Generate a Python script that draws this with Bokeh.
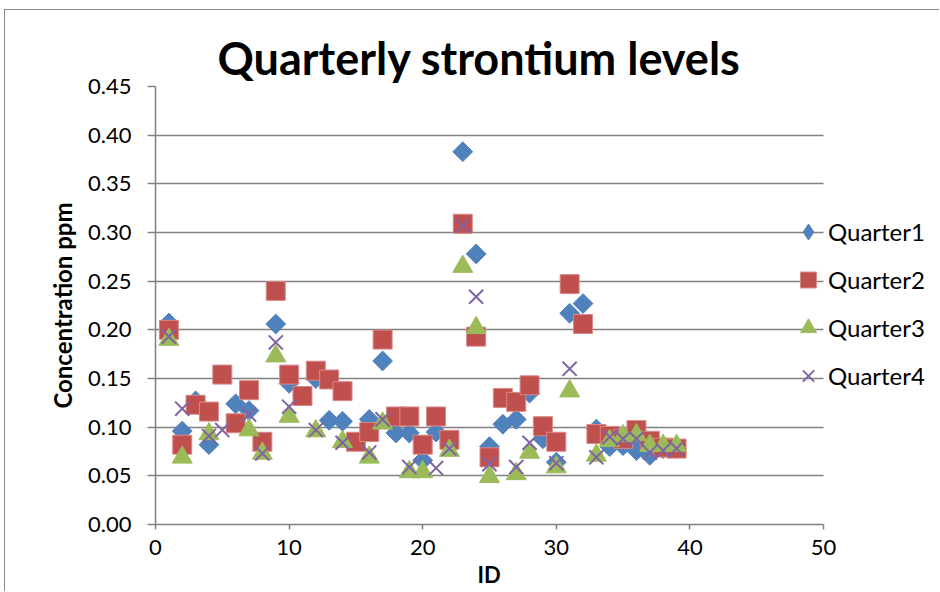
import numpy as np
from bokeh.plotting import figure
from bokeh.models import (ColumnDataSource, Legend, LegendItem, Range1d, Title,
                          SingleIntervalTicker, CustomJSTickFormatter)
from bokeh.embed import file_html
from bokeh.resources import INLINE

NA = np.nan  # no reading for that quarter
ids = list(range(1, 40))
q1 = [0.207, 0.096, 0.127, 0.082, NA, 0.124, 0.117, NA, 0.206, 0.145,
      NA, 0.150, 0.107, 0.106, NA, 0.108, 0.168, 0.094, 0.094, 0.066,
      0.095, 0.085, 0.383, 0.278, 0.080, 0.103, 0.108, 0.135, 0.088, 0.064,
      0.217, 0.227, 0.098, 0.080, 0.081, 0.076, 0.071, 0.078, 0.078]
q2 = [0.200, 0.082, 0.123, 0.116, 0.154, 0.104, 0.138, 0.085, 0.240, 0.154,
      0.132, 0.158, 0.149, 0.137, 0.085, 0.095, 0.190, 0.111, 0.111, 0.082,
      0.111, 0.087, 0.309, 0.193, 0.069, 0.130, 0.126, 0.143, 0.101, 0.085,
      0.247, 0.206, 0.093, 0.091, 0.088, 0.097, 0.086, 0.079, 0.078]
q3 = [0.190, 0.069, NA, 0.093, NA, NA, 0.097, 0.073, 0.173, 0.111,
      NA, 0.096, NA, 0.085, NA, 0.069, 0.104, NA, 0.054, 0.054,
      NA, 0.076, 0.265, 0.202, 0.049, NA, 0.052, 0.074, NA, 0.059,
      0.137, NA, 0.071, 0.086, 0.091, 0.092, 0.081, 0.081, 0.081]
q4 = [0.193, 0.119, NA, 0.091, 0.097, NA, 0.113, 0.073, 0.187, 0.121,
      NA, 0.097, NA, 0.084, NA, 0.074, 0.108, NA, 0.059, NA,
      0.058, 0.078, 0.307, 0.234, 0.062, NA, 0.059, 0.084, NA, 0.063,
      0.160, NA, 0.069, 0.090, 0.088, 0.088, 0.074, 0.076, 0.078]
series_names = ["Quarter1", "Quarter2", "Quarter3", "Quarter4"]
title_text = "Quarterly strontium levels"
x_label = "ID"
y_label = "Concentration ppm"
x_min, x_max = 0, 50
y_min, y_max = 0, 0.45

FONT = "Lato"
GRID = "#808080"
C1, C2, C3, C4 = "#4F81BD", "#C0504D", "#9BBB59", "#8064A2"

# frame extends to the right edge so the legend (drawn inside the frame) is not clipped;
# axis and grid are bounded to 0..50, which keeps them where the reference has them
x_view_max = x_max * 785 / 668

p = figure(width=935, height=582, output_backend="svg", toolbar_location=None,
           x_range=Range1d(x_min, x_view_max), y_range=Range1d(y_min, y_max),
           min_border_left=150, min_border_right=0, min_border_top=76, min_border_bottom=68)
p.margin = (9, 0, 0, 4)
p.styles = {"border-left": "1px solid #878787", "border-top": "1px solid #878787"}
p.outline_line_color = None
p.background_fill_color = "white"
p.border_fill_color = "white"

p.title.text = title_text
p.title.text_font = FONT
p.title.text_font_style = "bold"
p.title.text_font_size = "45px"
p.title.text_color = "black"
p.title.align = "left"
p.title.offset = 62
p.title.standoff = 4

p.xgrid.grid_line_color = None
p.ygrid.grid_line_color = GRID
p.ygrid.grid_line_width = 1.5
p.ygrid.cross_bounds = (x_min, x_max)

p.xaxis.bounds = (x_min, x_max)
p.xaxis.ticker = SingleIntervalTicker(interval=10)
p.yaxis.ticker = SingleIntervalTicker(interval=0.05)
p.yaxis.formatter = CustomJSTickFormatter(code="return tick.toFixed(2);")
for ax in (p.xaxis, p.yaxis):
    ax.axis_line_color = GRID
    ax.axis_line_width = 1.5
    ax.major_tick_line_color = GRID
    ax.major_tick_line_width = 1.5
    ax.minor_tick_line_color = None
    ax.major_tick_in = 0
    ax.major_label_text_font = FONT
    ax.major_label_text_font_size = "22px"
    ax.major_label_text_color = "black"
    ax.axis_label_text_font = FONT
    ax.axis_label_text_font_style = "bold"
    ax.axis_label_text_color = "black"
p.yaxis.axis_label_text_font_size = "24px"
p.xaxis.major_tick_out = 5
p.yaxis.major_tick_out = 8
p.xaxis.major_label_standoff = 10
p.yaxis.major_label_standoff = 16
p.yaxis.axis_label = y_label
p.yaxis.axis_label_standoff = 8

# x-axis title centred under the 0..50 axis
p.add_layout(Title(text=x_label, text_font=FONT, text_font_style="bold", text_font_size="22px",
                   text_color="black", align="left", offset=322, standoff=3), "below")

src = ColumnDataSource(dict(id=ids, q1=q1, q2=q2, q3=q3, q4=q4))
r1 = p.scatter("id", "q1", source=src, marker="square", angle=np.pi / 4, size=14,
               fill_color=C1, line_color=C1)
r2 = p.scatter("id", "q2", source=src, marker="square", size=19,
               fill_color=C2, line_color="#D88A88", line_width=1)
r3 = p.scatter("id", "q3", source=src, marker="triangle", size=20,
               fill_color=C3, line_color=C3)
r4 = p.scatter("id", "q4", source=src, marker="x", size=20,
               line_color=C4, line_width=2)
# legend key for the diamond series (legend keys are not rotated); NaN => nothing plotted
r1_key = p.scatter(x=[np.nan], y=[np.nan], marker="diamond", fill_color=C1, line_color=C1)

legend = Legend(items=[LegendItem(label=n, renderers=[r]) for n, r in
                       zip(series_names, [r1_key, r2, r3, r4])],
                location=(633, 126), orientation="vertical")
legend.label_text_font = FONT
legend.label_text_font_size = "24px"
legend.label_text_color = "black"
legend.glyph_width = 40
legend.glyph_height = 45
legend.label_height = 45
legend.spacing = 3
legend.padding = 0
legend.margin = 0
legend.label_standoff = 0
legend.border_line_color = None
legend.background_fill_alpha = 0
p.add_layout(legend, "center")

open("out.html", "w").write(file_html(p, INLINE))
